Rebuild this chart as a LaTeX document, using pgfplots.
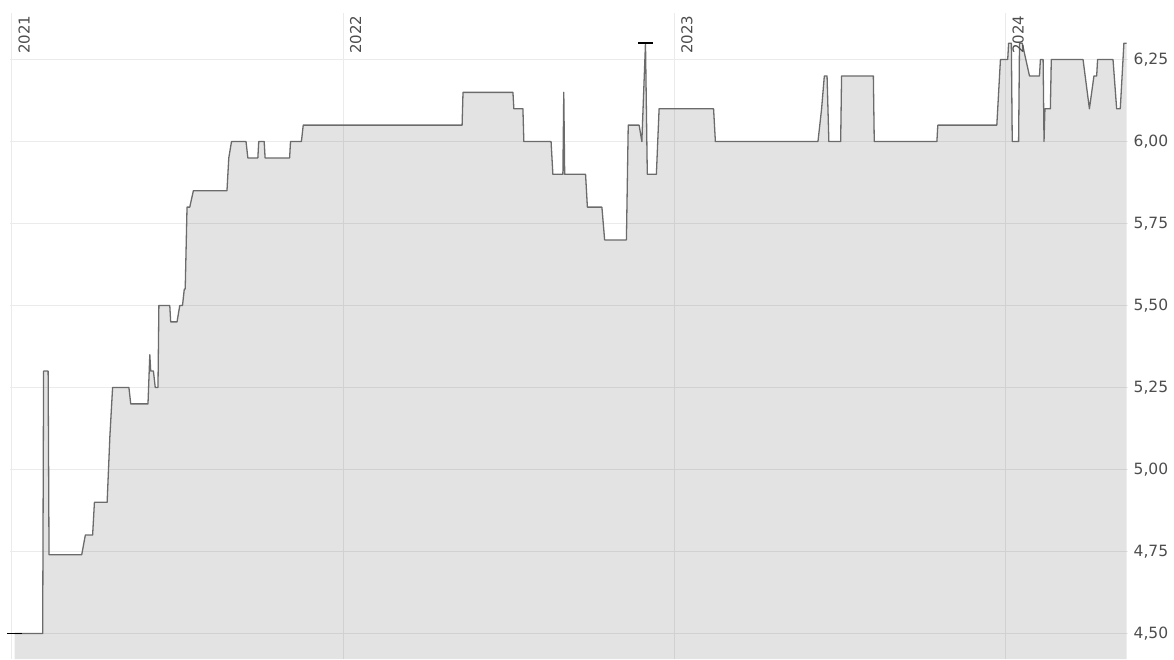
\documentclass[border=0pt]{standalone}
\usepackage{fontspec}
\setmainfont{DejaVu Sans}
\usepackage{pgfplots}
\usepackage{pgfplotstable}
\pgfplotsset{compat=1.18}
\definecolor{linegray}{HTML}{6B6B6B}
\definecolor{gridgray}{HTML}{EBEBEB}
\definecolor{labelgray}{HTML}{4D4D4D}
% day = days since 2021-01-01, value = price
\pgfplotstableread{
day value
3 4.50
34 4.50
35 5.30
40 5.30
41 4.74
77 4.74
81 4.80
89 4.80
91 4.90
105 4.90
108 5.10
111 5.25
129 5.25
131 5.20
150 5.20
152 5.35
153 5.30
156 5.30
158 5.25
161 5.25
162 5.50
174 5.50
175 5.45
182 5.45
185 5.50
188 5.50
190 5.55
191 5.55
193 5.80
196 5.80
200 5.85
237 5.85
239 5.95
242 6.00
258 6.00
260 5.95
271 5.95
272 6.00
278 6.00
279 5.95
306 5.95
307 6.00
319 6.00
321 6.05
496 6.05
497 6.15
552 6.15
553 6.10
563 6.10
564 6.00
594 6.00
596 5.90
607 5.90
608 6.15
609 5.90
632 5.90
634 5.80
650 5.80
653 5.70
677 5.70
679 6.05
691 6.05
694 6.00
698 6.30
700 5.90
710 5.90
713 6.10
773 6.10
775 6.00
888 6.00
892 6.10
895 6.20
898 6.20
900 6.00
913 6.00
914 6.20
949 6.20
950 6.00
1019 6.00
1020 6.05
1085 6.05
1089 6.25
1097 6.25
1098 6.30
1101 6.30
1102 6.00
1109 6.00
1110 6.30
1113 6.30
1121 6.20
1132 6.20
1133 6.25
1136 6.25
1137 6.00
1138 6.10
1144 6.10
1145 6.25
1180 6.25
1187 6.10
1192 6.20
1195 6.20
1196 6.25
1213 6.25
1217 6.10
1221 6.10
1225 6.30
1228 6.30
}\pricedata
\begin{document}
\begin{tikzpicture}
\path[use as bounding box] (0,0) rectangle (1174pt,659pt);
\begin{axis}[
  at={(10pt,0pt)}, anchor=south west,
  scale only axis,
  width=1118pt, height=646pt,
  xmin=-2, xmax=1229.5,
  ymin=4.422, ymax=6.392,
  axis line style={draw=none},
  major tick length=0pt,
  xtick={0,365,730,1095},
  xticklabels={},
  ytick={4.5,4.75,5,5.25,5.5,5.75,6,6.25},
  yticklabel pos=right,
  yticklabel style={anchor=west, inner sep=0pt, xshift=5.5pt,
    font=\fontsize{15.5}{18}\selectfont, text=labelgray,
    /pgf/number format/.cd, fixed, fixed zerofill, precision=2, use comma, assume math mode=true},
  grid=major,
  major grid style={draw=gridgray, line width=1pt},
]
\addplot[draw=none, fill=black, fill opacity=0.11] table[x=day, y=value] {\pricedata} \closedcycle;
\addplot[color=linegray, line width=1.3pt, line join=round] table[x=day, y=value] {\pricedata};
\addplot[only marks, mark=-, mark size=7.5pt, mark options={black, line width=1.6pt}] coordinates {(3,4.50) (698,6.30)};
\foreach \d/\yr in {0/2021,365/2022,730/2023,1095/2024} {
  \edef\tmp{\noexpand\node[rotate=90, anchor=north east, inner sep=0pt, text=labelgray, font=\noexpand\fontsize{15}{18}\noexpand\selectfont] at ([xshift=6.5pt,yshift=-2.5pt]axis cs:\d,6.392) {\yr};}
  \tmp
}
\end{axis}
\end{tikzpicture}
\end{document}
